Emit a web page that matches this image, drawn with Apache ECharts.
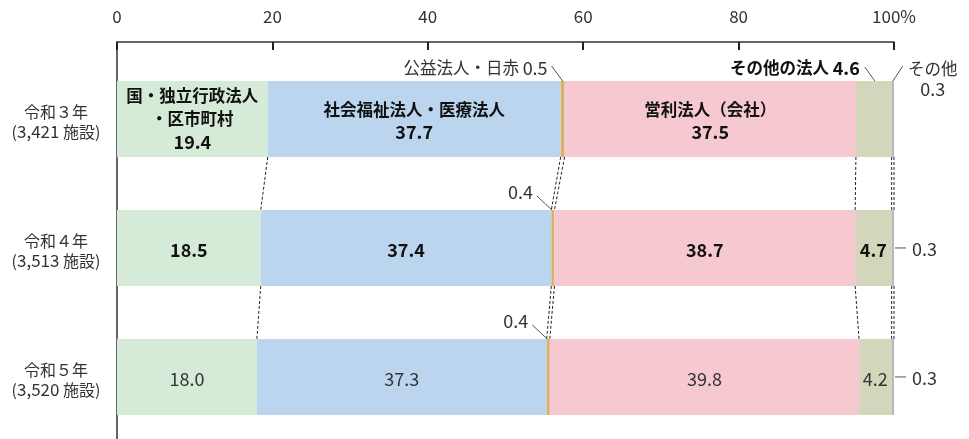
<!DOCTYPE html>
<html><head><meta charset="utf-8">
<script src="https://cdn.jsdelivr.net/npm/echarts@6/dist/echarts.min.js"></script>
<style>html,body{margin:0;padding:0;background:#fff}#c{width:969px;height:439px}</style>
</head><body><div id="c"></div>
<script>
const categories = ['令和３年\n(3,421 施設)', '令和４年\n(3,513 施設)', '令和５年\n(3,520 施設)'];
const seriesNames = ['国・独立行政法人\n・区市町村', '社会福祉法人・医療法人', '公益法人・日赤', '営利法人（会社）', 'その他の法人', 'その他'];
const govt = [19.4, 18.5, 18.0];
const social = [37.7, 37.4, 37.3];
const koeki = [0.5, 0.4, 0.4];
const eiri = [37.5, 38.7, 39.8];
const otherCorp = [4.6, 4.7, 4.2];
const other = [0.3, 0.3, 0.3];
const xTickValues = [0, 20, 40, 60, 80, 100];
const xTickLabels = ['0', '20', '40', '60', '80', '100%'];

const colors = ['#d5ead7', '#bcd5ef', '#d8b26b', '#f6c8cf', '#d4d6bb', '#b9b9b9'];
const FONT = '"Noto Sans CJK JP", "Noto Sans", sans-serif';
const BAR_H = 76;

const data = categories.map((c, i) => [i, govt[i], social[i], koeki[i], eiri[i], otherCorp[i], other[i]]);

function wrapNums(s) {
  return s.replace(/[0-9][0-9.,]*/g, m => '{n|' + m + '}');
}
function txt(x, y, text, opt) {
  opt = opt || {};
  const fill = opt.fill || '#1a1a1a';
  const fw = opt.bold ? 'bold' : 'normal';
  const lh = opt.lineHeight || 23;
  return {
    type: 'text',
    style: {
      x: x, y: y, text: wrapNums(text),
      fill: fill,
      fontSize: opt.fontSize || 16.5,
      fontFamily: FONT,
      fontWeight: fw,
      align: opt.align || 'center',
      verticalAlign: 'middle',
      lineHeight: lh,
      rich: {
        n: { fontSize: opt.numSize || 18, fontFamily: FONT, fontWeight: fw, fill: fill, lineHeight: lh }
      }
    },
    z2: 10
  };
}
function seg(x1, y1, x2, y2, dash, color) {
  return {
    type: 'line',
    shape: { x1: x1, y1: y1, x2: x2, y2: y2 },
    style: { stroke: color || '#333', lineWidth: 1, lineDash: dash ? [3, 2] : null },
    z2: 5
  };
}

function renderItem(params, api) {
  const row = api.value(0);
  const idx = params.dataIndexInside;
  const vals = [1, 2, 3, 4, 5, 6].map(k => api.value(k));
  const bounds = [0];
  let cum = 0;
  vals.forEach(v => { cum += v; bounds.push(cum); });
  const yc = api.coord([0, row])[1];
  const top = yc - BAR_H / 2, bot = yc + BAR_H / 2;
  const X = v => api.coord([v, row])[0];
  const bold = row < 2;
  const children = [];

  for (let k = 0; k < 6; k++) {
    const x0 = X(bounds[k]), x1 = X(bounds[k + 1]);
    children.push({ type: 'rect', shape: { x: x0, y: top, width: x1 - x0, height: BAR_H }, style: { fill: colors[k] } });
  }
  // inner labels
  [0, 1, 3].forEach(k => {
    const xc = (X(bounds[k]) + X(bounds[k + 1])) / 2;
    const t = row === 0 ? seriesNames[k] + '\n' + vals[k].toFixed(1) : vals[k].toFixed(1);
    children.push(txt(xc, yc + (row === 0 && k === 0 ? 0 : 2), t, { bold: bold, fill: bold ? '#111' : '#333' }));
  });
  // koeki (outside)
  {
    const xc = (X(bounds[2]) + X(bounds[3])) / 2;
    if (row === 0) {
      children.push(seg(xc - 11, top - 15, xc, top, false, '#555'));
      children.push(txt(xc - 15, top - 13, seriesNames[2] + ' ' + vals[2].toFixed(1), { align: 'right', fill: '#333' }));
    } else {
      children.push(seg(xc - 16, top - 14, xc - 1, top, false, '#555'));
      children.push(txt(xc - 20, top - 18, vals[2].toFixed(1), { align: 'right', fill: '#333' }));
    }
  }
  // other corp
  {
    const xc = (X(bounds[4]) + X(bounds[5])) / 2;
    if (row === 0) {
      children.push(seg(xc - 9, top - 14, xc + 1, top, false, '#555'));
      children.push(txt(xc - 14, top - 13, seriesNames[4] + ' ' + vals[4].toFixed(1), { align: 'right', bold: true, fill: '#111' }));
    } else {
      children.push(txt(xc, yc + 2, vals[4].toFixed(1), { bold: bold, fill: bold ? '#111' : '#333' }));
    }
  }
  // other
  {
    const xc = (X(bounds[5]) + X(bounds[6])) / 2;
    if (row === 0) {
      children.push(seg(xc, top, xc + 10, top - 15, false, '#555'));
      children.push(txt(xc + 40, top - 2, seriesNames[5] + '\n' + vals[5].toFixed(1), { fill: '#333', lineHeight: 21 }));
    } else {
      const xr = X(bounds[6]);
      children.push(seg(xr + 1, yc, xr + 12, yc, false, '#555'));
      children.push(txt(xr + 18, yc + 1, vals[5].toFixed(1), { align: 'left', fill: '#333' }));
    }
  }
  // row label
  children.push(txt(X(0) - 61, yc + 3, categories[row], { fill: '#333', fontSize: 16, numSize: 17, lineHeight: 20 }));

  // connectors to next row
  if (idx < data.length - 1) {
    const nrow = api.value(0, idx + 1);
    const nvals = [1, 2, 3, 4, 5, 6].map(k => api.value(k, idx + 1));
    const nb = [0];
    let nc = 0;
    nvals.forEach(v => { nc += v; nb.push(nc); });
    const ntop = api.coord([0, nrow])[1] - BAR_H / 2;
    for (let k = 1; k <= 6; k++) {
      const xa = api.coord([bounds[k], row])[0];
      const xb = api.coord([nb[k], nrow])[0];
      children.push(seg(xa, bot, xb, ntop, true, '#222'));
    }
  }
  return { type: 'group', children: children };
}

const chart = echarts.init(document.getElementById('c'));
chart.setOption({
  animation: false,
  backgroundColor: '#fff',
  grid: { left: 117, right: 75, top: 42, bottom: 0 },
  xAxis: {
    type: 'value', position: 'top', min: 0, max: 100, interval: 20,
    axisLine: { show: true, onZero: false, lineStyle: { color: '#333', width: 1.5 } },
    axisTick: { show: true, inside: true, length: 8, lineStyle: { color: '#222', width: 2 } },
    axisLabel: {
      margin: 17, fontSize: 17, color: '#333', fontFamily: FONT,
      formatter: v => xTickLabels[xTickValues.indexOf(v)]
    },
    splitLine: { show: false }
  },
  yAxis: {
    type: 'value', inverse: true, min: -0.597, max: 2.481,
    axisLine: { show: true, onZero: false, lineStyle: { color: '#333', width: 1.5 } },
    axisTick: { show: false }, axisLabel: { show: false }, splitLine: { show: false }
  },
  series: [{
    type: 'custom',
    renderItem: renderItem,
    encode: { x: 1, y: 0 },
    clip: false,
    data: data
  }]
});
</script></body></html>
